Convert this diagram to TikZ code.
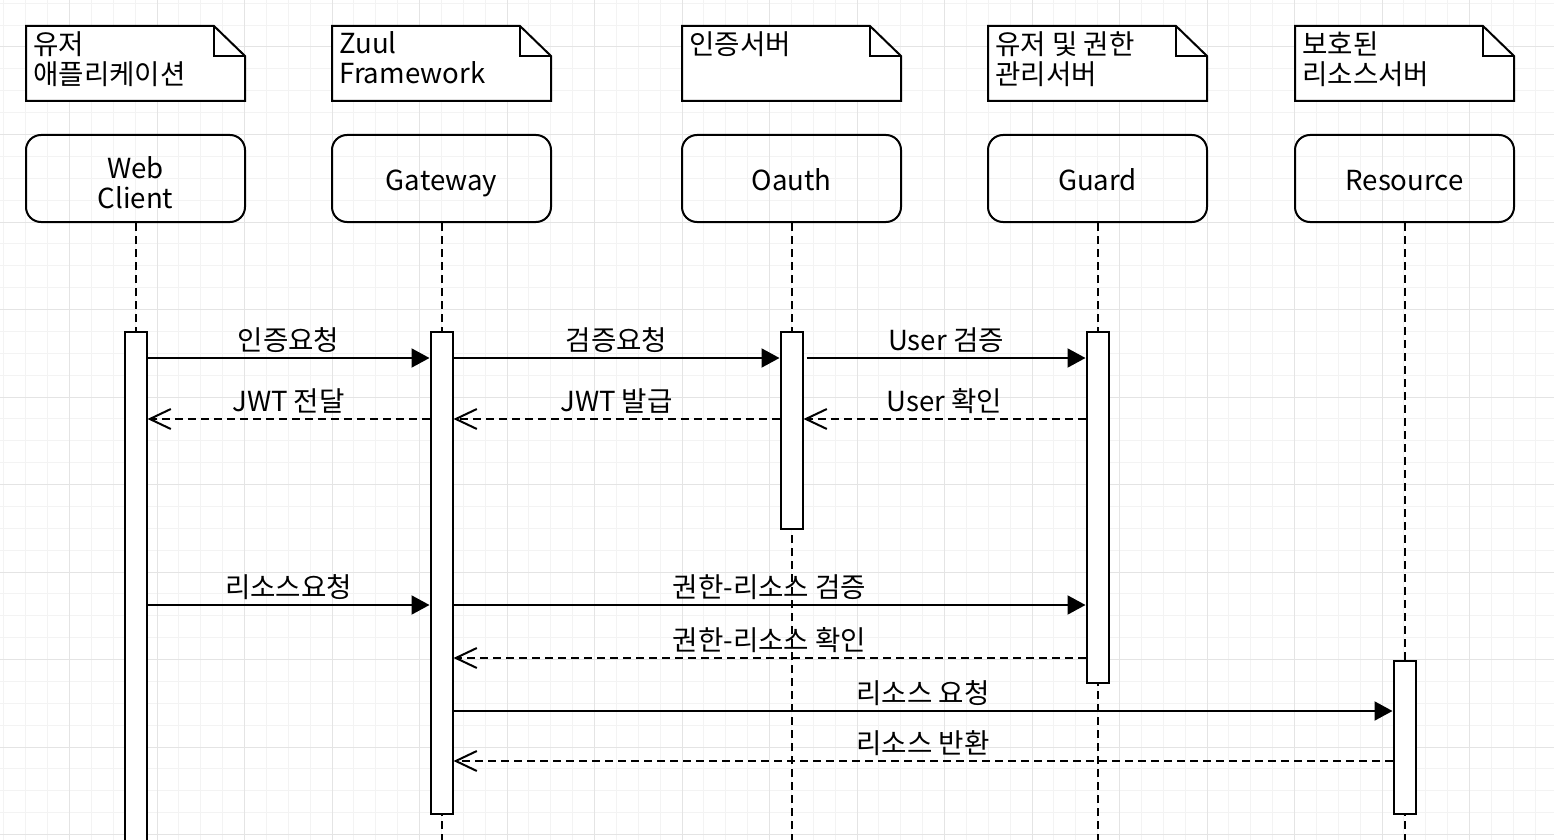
\documentclass[tikz,border=0pt]{standalone}
\usepackage{fontspec}
\setmainfont{Noto Sans CJK KR}
\usetikzlibrary{arrows.meta,calc}
\definecolor{gridmajor}{HTML}{E4E4E4}
\definecolor{gridminor}{HTML}{F3F3F3}
\tikzset{
  head/.style={draw, line width=1pt, rounded corners=7.5pt, minimum width=109.5pt, minimum height=43.5pt, align=center, text height=1.2em, text depth=0pt, font=\fontsize{13.8}{15}\selectfont},
  headlabel/.style={align=center, yshift=-2pt, font=\fontsize{13.8}{15}\selectfont},
  bar/.style={draw, fill=white, line width=1pt, minimum width=11pt, inner sep=0pt, anchor=north},
  life/.style={line width=1pt, dash pattern=on 3.75pt off 2.75pt},
  notebox/.style={draw, fill=white, line width=1pt},
  notetext/.style={anchor=north west, inner sep=0pt, align=left, font=\fontsize{13.8}{15}\selectfont},
  call/.style={line width=1pt, -{Triangle[length=9pt,width=9.5pt]}},
  reply/.style={line width=1pt, dash pattern=on 3.75pt off 2.75pt, -{Straight Barb[length=10.5pt,width=10pt]}},
  msg/.style={midway, yshift=9pt, font=\fontsize{13.8}{15}\selectfont}
}
\begin{document}
\begin{tikzpicture}[x=0.5pt,y=-0.5pt]
        \useasboundingbox (0,0) rectangle (1554,840);
        \clip (0,0) rectangle (1554,840);
        \fill[white] (0,0) rectangle (1554,840);
        %% background grid, light lines first and the darker ones on top
        \foreach \i in {0,...,70} \draw[gridminor, line width=0.5pt] ({3.875+21.875*\i},0) -- ++(0,840);
        \foreach \i in {0,...,38} \draw[gridminor, line width=0.5pt] (0,{3.25+21.875*\i}) -- ++(1554,0);
        \foreach \i in {0,...,16} \draw[gridmajor, line width=0.5pt] ({69.5+87.5*\i},0) -- ++(0,840);
        \foreach \i in {0,...,9} \draw[gridmajor, line width=0.5pt] (0,{47+87.5*\i}) -- ++(1554,0);

        %% notes with the folded corner
        \coordinate (nWeb) at (26,26);
        \coordinate (nZuul) at (332,26);
        \coordinate (nAuth) at (682,26);
        \coordinate (nGuard) at (988,26);
        \coordinate (nRes) at (1295,26);
        \foreach \n in {nWeb,nZuul,nAuth,nGuard,nRes} {
          \draw[notebox] (\n) -- ++(188,0) -- ++(31,30) -- ++(0,45) -- ++(-219,0) -- cycle;
          \draw[notebox, fill=none] (\n) ++(188,0) -- ++(0,30) -- ++(31,0);
        }
        \node[notetext] at ($(nWeb)+(7,5)$) {유저\\애플리케이션};
        \node[notetext] at ($(nZuul)+(7,5)$) {Zuul\\Framework};
        \node[notetext] at ($(nAuth)+(7,5)$) {인증서버};
        \node[notetext] at ($(nGuard)+(7,5)$) {유저 및 권한\\관리서버};
        \node[notetext] at ($(nRes)+(7,5)$) {보호된\\리소스서버};

        %% lifeline heads
        \node[head, label={[headlabel]center:Web\\Client}] (web) at (135.5,178.5) {};
        \node[head] (gw) at (441.5,178.5) {Gateway};
        \node[head] (oauth) at (791.5,178.5) {Oauth};
        \node[head] (guard) at (1097.5,178.5) {Guard};
        \node[head] (res) at (1404.5,178.5) {Resource};

        %% dashed lifelines down to the bottom edge
        \coordinate (bottom) at (0,840);
        \foreach \h in {web,gw,oauth,guard,res} \draw[life] (\h.south) -- (\h.south |- bottom);

        %% activation bars
        \coordinate (t1) at (0,331);
        \coordinate (t2) at (0,660);
        \node[bar, minimum height=259.5pt] (aWeb) at (web.south |- t1) {};
        \node[bar, minimum height=241pt] (aGw) at (gw.south |- t1) {};
        \node[bar, minimum height=98.5pt] (aAuth) at (oauth.south |- t1) {};
        \node[bar, minimum height=175.5pt] (aGuard) at (guard.south |- t1) {};
        \node[bar, minimum height=76.5pt] (aRes) at (res.south |- t2) {};

        %% messages
        \coordinate (m1) at (0,358);
        \coordinate (m2) at (0,419);
        \coordinate (m3) at (0,605);
        \coordinate (m4) at (0,658);
        \coordinate (m5) at (0,711);
        \coordinate (m6) at (0,761);
        \draw[call] (aWeb.east |- m1) -- node[msg] {인증요청} (aGw.west |- m1);
        \draw[call] (aGw.east |- m1) -- node[msg] {검증요청} (aAuth.west |- m1);
        \draw[call] ([xshift=1.5pt]aAuth.east |- m1) -- node[msg] {User 검증} (aGuard.west |- m1);
        \draw[reply] (aGw.west |- m2) -- node[msg] {JWT 전달} (aWeb.east |- m2);
        \draw[reply] (aAuth.west |- m2) -- node[msg] {JWT 발급} (aGw.east |- m2);
        \draw[reply] (aGuard.west |- m2) -- node[msg] {User 확인} (aAuth.east |- m2);
        \draw[call] (aWeb.east |- m3) -- node[msg] {리소스요청} (aGw.west |- m3);
        \draw[call] (aGw.east |- m3) -- node[msg] {권한-리소스 검증} (aGuard.west |- m3);
        \draw[reply] (aGuard.west |- m4) -- node[msg] {권한-리소스 확인} (aGw.east |- m4);
        \draw[call] (aGw.east |- m5) -- node[msg] {리소스 요청} (aRes.west |- m5);
        \draw[reply] (aRes.west |- m6) -- node[msg] {리소스 반환} (aGw.east |- m6);
\end{tikzpicture}
\end{document}
